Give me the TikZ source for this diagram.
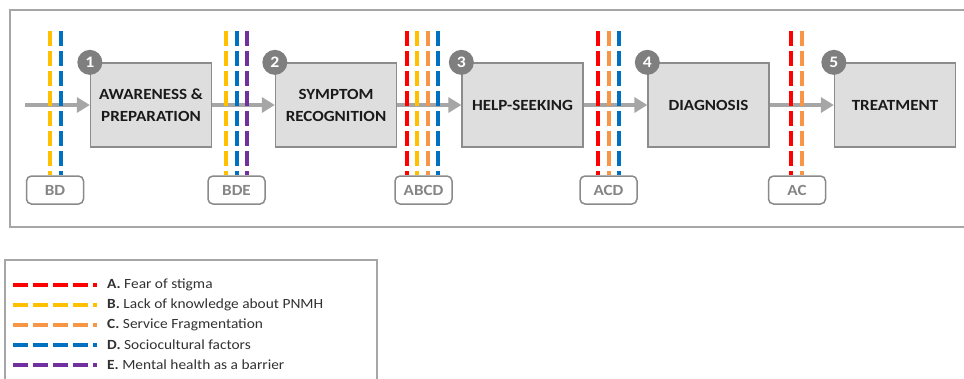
\documentclass[tikz,border=0pt]{standalone}
\usepackage{fontspec}
\setmainfont{Carlito}[FakeStretch=1.1]
\usetikzlibrary{arrows.meta}
\definecolor{cA}{HTML}{FF0000}
\definecolor{cB}{HTML}{FFC000}
\definecolor{cC}{HTML}{F79646}
\definecolor{cD}{HTML}{0070C0}
\definecolor{cE}{HTML}{7030A0}
\definecolor{boxfill}{HTML}{DEDEDE}
\definecolor{boxline}{HTML}{8C8C8C}
\definecolor{flow}{HTML}{A6A6A6}
\definecolor{badge}{HTML}{7F7F7F}
\definecolor{tagline}{HTML}{8A8A8A}
\definecolor{tagtext}{HTML}{858585}
\definecolor{framecol}{HTML}{A6A6A6}
\definecolor{ink}{HTML}{1A1A1A}

\begin{document}
\begin{tikzpicture}[x=1pt,y=-1pt,
  stage/.style={draw=boxline, line width=1.3pt, fill=boxfill,
    minimum width=121pt, minimum height=84pt, inner sep=0pt, align=center,
    font=\fontsize{15.5}{22}\selectfont\bfseries, text=ink},
  badgenode/.style={circle, fill=badge, minimum size=25pt, inner sep=0pt,
    text=white, font=\fontsize{16}{16}\selectfont\bfseries},
  tagbox/.style={draw=tagline, line width=1.5pt, rounded corners=5pt,
    minimum width=57pt, minimum height=28pt, inner sep=0pt, fill=white,
    text=tagtext, font=\fontsize{15.5}{15.5}\selectfont\bfseries},
  flowarrow/.style={draw=flow, line width=4.5pt,
    -{Triangle[length=13pt,width=15pt]}},
  barrier/.style={line width=4pt, dash pattern=on 15pt off 5pt},
  legendtext/.style={anchor=west, inner sep=0pt, text=ink!90,
    font=\fontsize{14}{14}\selectfont},
]
\useasboundingbox (0,0) rectangle (964,378);

% outer frame and legend frame
\draw[framecol, line width=2pt] (10,10) rectangle (980,227);
\draw[framecol, line width=2pt] (5,260) rectangle (377,400);

% stages
\node[stage] (s1) at (151,105) {AWARENESS \&\\PREPARATION};
\node[stage] (s2) at (336,105) {SYMPTOM\\RECOGNITION};
\node[stage] (s3) at (522.5,105) {HELP-SEEKING};
\node[stage] (s4) at (708.5,105) {DIAGNOSIS};
\node[stage] (s5) at (895,105) {TREATMENT};

% flow arrows
\coordinate (start) at (25,105);
\draw[flowarrow] (start) -- (s1.west);
\draw[flowarrow] (s1.east) -- (s2.west);
\draw[flowarrow] (s2.east) -- (s3.west);
\draw[flowarrow] (s3.east) -- (s4.west);
\draw[flowarrow] (s4.east) -- (s5.west);

% step badges
\foreach \i in {1,...,5}
  \node[badgenode] (n\i) at (s\i.north west) {\i};

% barrier tags
\node[tagbox] (l1) at (55,190) {BD};
\node[tagbox] (l2) at (236.5,190) {BDE};
\node[tagbox] (l3) at (423.5,190) {ABCD};
\node[tagbox] (l4) at (608.5,190) {ACD};
\node[tagbox] (l5) at (797,190) {AC};

% barrier lines: tag / x position / colour
\foreach \t/\x/\c in {l1/50/cB, l1/61/cD,
    l2/226/cB, l2/237/cD, l2/247/cE,
    l3/407/cA, l3/417/cB, l3/428/cC, l3/438/cD,
    l4/598/cA, l4/608.5/cC, l4/619/cD,
    l5/791/cA, l5/801.5/cC} {
  \coordinate (top) at (\x,31);
  \draw[barrier, \c] (top) -- (top |- \t.north);
}

% legend
\foreach \k/\c/\lbl/\txt [count=\r from 0] in {A/cA/A./Fear of stigma,
    B/cB/B./Lack of knowledge about PNMH,
    C/cC/C./Service Fragmentation,
    D/cD/D./Sociocultural factors,
    E/cE/E./Mental health as a barrier} {
  \coordinate (ls\k) at (13,285+20*\r);
  \coordinate (le\k) at (97,285+20*\r);
  \draw[barrier, \c] (ls\k) -- (le\k);
  \node[legendtext] (lt\k) at (107,285+20*\r) {\textbf{\lbl} \txt};
}
\end{tikzpicture}
\end{document}
